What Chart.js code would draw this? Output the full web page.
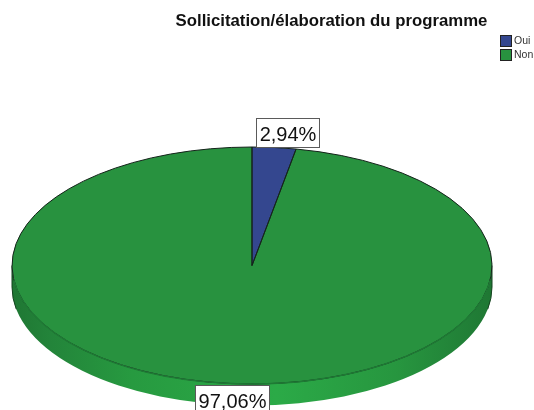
<!DOCTYPE html>
<html>
<head>
<meta charset="utf-8">
<script src="https://cdn.jsdelivr.net/npm/chart.js@4/dist/chart.umd.min.js"></script>
<style>
html, body { margin: 0; padding: 0; background: #fff; overflow: hidden; }
canvas { display: block; }
</style>
</head>
<body>
<canvas id="pie_programme" width="534" height="410"></canvas>
<script>
/* data */
const chartTitle  = 'Sollicitation/élaboration du programme';
const categories  = ['Oui', 'Non'];
const percentages = [2.94, 97.06];
const sliceColors = ['#34478f', '#28923f'];

/* tilted pie setting */
const tilt = { cx: 252, cy: 265.5, rx: 240, ry: 118.5, depth: 21.5 };

const formatPercent = (value)=>{
    return value.toFixed(2).replace('.', ',') + '%';
};

// pushes the pie coordinate system onto the tilted ellipse
const applyTilt = (ctx, arc)=>{
    ctx.translate(tilt.cx, tilt.cy);
    ctx.scale(tilt.rx / arc.outerRadius, tilt.ry / arc.outerRadius);
    ctx.translate(-arc.x, -arc.y);
};

const drawRim = (ctx)=>{
    let gradient = ctx.createLinearGradient(tilt.cx - tilt.rx, 0, tilt.cx + tilt.rx, 0);
    gradient.addColorStop(0,    '#1f7733');
    gradient.addColorStop(0.08, '#23843a');
    gradient.addColorStop(0.25, '#279a40');
    gradient.addColorStop(0.55, '#2baa47');
    gradient.addColorStop(0.8,  '#27963f');
    gradient.addColorStop(0.95, '#217f37');
    gradient.addColorStop(1,    '#1f7733');
    ctx.save();
    ctx.beginPath();
    ctx.ellipse(tilt.cx, tilt.cy + tilt.depth, tilt.rx, tilt.ry, 0, 0, Math.PI);
    ctx.ellipse(tilt.cx, tilt.cy, tilt.rx, tilt.ry, 0, Math.PI, 0, true);
    ctx.closePath();
    ctx.fillStyle = gradient;
    ctx.fill();
    // dark edge on the two sides of the rim
    ctx.strokeStyle = '#15431f';
    ctx.lineWidth = 1;
    ctx.beginPath();
    ctx.ellipse(tilt.cx, tilt.cy + tilt.depth, tilt.rx, tilt.ry, 0, Math.PI * 0.94, Math.PI);
    ctx.lineTo(tilt.cx - tilt.rx, tilt.cy);
    ctx.stroke();
    ctx.beginPath();
    ctx.moveTo(tilt.cx + tilt.rx, tilt.cy);
    ctx.lineTo(tilt.cx + tilt.rx, tilt.cy + tilt.depth);
    ctx.ellipse(tilt.cx, tilt.cy + tilt.depth, tilt.rx, tilt.ry, 0, 0, Math.PI * 0.06);
    ctx.stroke();
    ctx.restore();
};

const drawOutlines = (ctx, arcs)=>{
    arcs.forEach((arc)=>{
        ctx.save();
        applyTilt(ctx, arc);
        ctx.beginPath();
        ctx.moveTo(arc.x, arc.y);
        ctx.arc(arc.x, arc.y, arc.outerRadius, arc.startAngle, arc.endAngle);
        ctx.closePath();
        ctx.restore(); // stroke with the normal transform so the pen stays round
        ctx.strokeStyle = '#14231a';
        ctx.lineWidth = 1;
        ctx.stroke();
    });
    // front of the top face has a softer edge
    ctx.save();
    ctx.strokeStyle = '#1f7a35';
    ctx.lineWidth = 1.4;
    ctx.beginPath();
    ctx.ellipse(tilt.cx, tilt.cy, tilt.rx, tilt.ry, 0, Math.PI * 0.04, Math.PI * 0.96);
    ctx.stroke();
    ctx.restore();
};

const drawLabel = (ctx, text, centerX, top, width, height)=>{
    ctx.save();
    ctx.fillStyle = '#ffffff';
    ctx.strokeStyle = '#5a5a5a';
    ctx.lineWidth = 1;
    ctx.fillRect(centerX - width / 2, top, width, height);
    ctx.strokeRect(centerX - width / 2 + 0.5, top + 0.5, width - 1, height - 1);
    ctx.fillStyle = '#111111';
    ctx.font = '20px "Liberation Sans"';
    ctx.textAlign = 'center';
    ctx.textBaseline = 'alphabetic';
    ctx.fillText(text, centerX, top + 23);
    ctx.restore();
};

const drawLegend = (ctx)=>{
    ctx.save();
    ctx.font = '10.5px "Liberation Sans"';
    ctx.textAlign = 'left';
    ctx.textBaseline = 'middle';
    categories.forEach((name, i)=>{
        let top = 35.5 + i * 14;
        ctx.fillStyle = sliceColors[i];
        ctx.strokeStyle = '#222222';
        ctx.lineWidth = 1;
        ctx.fillRect(500.5, top, 11, 11);
        ctx.strokeRect(500.5, top, 11, 11);
        ctx.fillStyle = '#333333';
        ctx.fillText(name, 514, top + 6);
    });
    ctx.restore();
};

const tiltedPie = {
    id: 'tiltedPie',
    afterLayout(chart){
        // title sits at the top right, centred over x = 331
        chart.titleBlock.left  = 175;
        chart.titleBlock.right = 488;
        chart.titleBlock.top   = 11;
    },
    beforeDatasetsDraw(chart){
        let arc = chart.getDatasetMeta(0).data[0];
        let ctx = chart.ctx;
        drawRim(ctx);
        ctx.save();
        applyTilt(ctx, arc);
    },
    afterDatasetsDraw(chart){
        chart.ctx.restore();
        drawOutlines(chart.ctx, chart.getDatasetMeta(0).data);
    },
    afterDraw(chart){
        let ctx = chart.ctx;
        drawLabel(ctx, formatPercent(percentages[0]), 288, 118, 64, 30);
        drawLabel(ctx, formatPercent(percentages[1]), 232.5, 385, 75, 30);
        drawLegend(ctx);
    }
};

let ctx_pie = document.querySelector('#pie_programme').getContext('2d');
let chart_pie = new Chart(ctx_pie, {
    type: 'pie',
    data: {
        labels: categories,
        datasets: [{
            data: percentages,
            backgroundColor: sliceColors,
            borderWidth: 0
        }]
    },
    options: {
        responsive: false,
        animation: false,
        plugins: {
            title: {
                display: true,
                text: chartTitle,
                color: '#111111',
                font: { family: '"Liberation Sans"', size: 16.75, weight: 'bold' },
                padding: 0
            },
            legend: { display: false },
            tooltip: { enabled: false }
        }
    },
    plugins: [tiltedPie]
});
</script>
</body>
</html>
